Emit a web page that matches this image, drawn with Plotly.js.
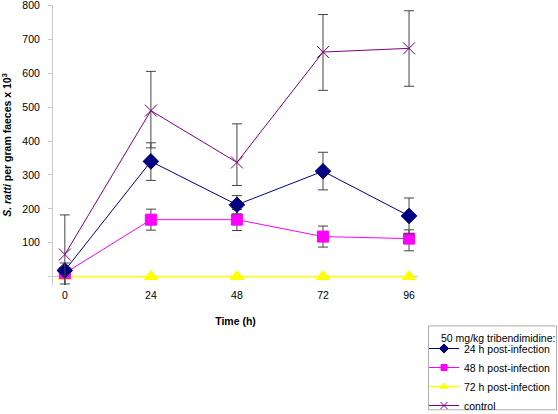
<!DOCTYPE html>
<html>
<head>
<meta charset="utf-8">
<script src="https://cdn.plot.ly/plotly-3.0.1.min.js"></script>
<style>html,body{margin:0;padding:0;background:#fff;}#chart{width:558px;height:414px;}</style>
</head>
<body>
<div id="chart"></div>
<script>
var timeH = [0, 24, 48, 72, 96];
var yTickVals = [0, 100, 200, 300, 400, 500, 600, 700, 800];
var yTickText = ['', '100', '200', '300', '400', '500', '600', '700', '800'];
var xTickVals = [0, 24, 48, 72, 96];

var h24Vals = [18, 340, 212, 311, 179];
var h24ErrPlus = [22, 55, 27, 56, 53];
var h24ErrMinus = [40, 56, 27, 55, 53];

var h48Vals = [10, 168, 168, 118, 112];
var h48ErrPlus = [8, 31, 30, 31, 26];
var h48ErrMinus = [8, 31, 32, 31, 36];

var h72Vals = [0, 0, 0, 0, 0];
var h72ErrPlus = [0, 0, 0, 0, 0];
var h72ErrMinus = [30, 0, 0, 0, 0];

var controlVals = [65, 490, 337, 663, 674];
var controlErrPlus = [117, 116, 114, 111, 111];
var controlErrMinus = [117, 110, 68, 113, 112];

var seriesNames = ['24 h post-infection', '48 h post-infection', '72 h post-infection', 'control'];
var legendHeader = '50 mg/kg tribendimidine:';

var styles = [
  {color: '#000080', symbol: 'diamond', size: 12, lsize: 7, lw: 1},
  {color: '#FF00FF', symbol: 'square', size: 11, lsize: 6, lw: 1},
  {color: '#FFFF00', symbol: 'triangle-up', size: 12, lsize: 7, lw: 1.5},
  {color: '#800080', symbol: 'x-thin-open', size: 12, lsize: 7, lw: 1}
];
var seriesVals = [h24Vals, h48Vals, h72Vals, controlVals];
var seriesPlus = [h24ErrPlus, h48ErrPlus, h72ErrPlus, controlErrPlus];
var seriesMinus = [h24ErrMinus, h48ErrMinus, h72ErrMinus, controlErrMinus];

function errBar(plus, minus) {
  return {type: 'data', symmetric: false, array: plus, arrayminus: minus,
          color: '#444444', thickness: 1, width: 5, visible: true};
}

var drawOrder = [2, 1, 0, 3];
var traces = [];
drawOrder.forEach(function (i) {
  var s = styles[i];
  traces.push({
    x: timeH, y: seriesVals[i], name: seriesNames[i], mode: 'lines+markers', showlegend: false,
    line: {color: s.color, width: s.lw},
    marker: {symbol: s.symbol, size: s.size, color: s.color, line: {color: s.color, width: 1}},
    error_y: errBar(seriesPlus[i], seriesMinus[i]), cliponaxis: false
  });
});
// legend-only entries (small symbols as in the reference legend)
[0, 1, 2, 3].forEach(function (i) {
  var s = styles[i];
  traces.push({
    x: [null], y: [null], name: seriesNames[i], mode: 'lines+markers', showlegend: true,
    line: {color: s.color, width: s.lw},
    marker: {symbol: s.symbol, size: s.lsize, color: s.color, line: {color: s.color, width: 1}},
    hoverinfo: 'skip'
  });
});

var plotL = 53, plotR = 418, plotT = 5, plotB = 285.5;
function px2paperX(px) { return (px - plotL) / (plotR - plotL); }
function px2paperY(py) { return (plotB - py) / (plotB - plotT); }

var layout = {
  width: 558, height: 414,
  margin: {l: plotL, r: 558 - plotR, t: plotT, b: 414 - plotB, pad: 0},
  paper_bgcolor: '#ffffff', plot_bgcolor: '#ffffff',
  font: {family: '"Liberation Sans", Arial, sans-serif', size: 10.5, color: '#000000'},
  showlegend: true,
  xaxis: {
    range: [-3.3, 98.5], tickvals: xTickVals, ticktext: xTickVals.map(String),
    showgrid: false, zeroline: false, showline: false, ticks: '',
    tickfont: {size: 10.5}, ticklabelstandoff: 2,
    title: {text: '<b>Time (h)</b>', font: {size: 10.5}, standoff: 18},
    fixedrange: true
  },
  yaxis: {
    range: [-25, 802], tickvals: yTickVals, ticktext: yTickText,
    showgrid: false, zeroline: false, showline: true, linecolor: '#c8c8c8', linewidth: 1,
    ticks: 'outside', ticklen: 4, tickcolor: '#c8c8c8',
    tickfont: {size: 10.5}, ticklabelstandoff: 6, ticklabeloverflow: 'allow',
    title: {text: '<b><i>S. ratti</i> per gram faeces x 10<sup>3</sup></b>', font: {size: 10.5}, standoff: 10},
    automargin: false, fixedrange: true
  },
  shapes: [
    {type: 'line', xref: 'paper', yref: 'y', x0: 0, x1: 1, y0: 0, y1: 0,
     line: {color: '#c8c8c8', width: 1}, layer: 'below'},
    {type: 'rect', xref: 'paper', yref: 'paper',
     x0: px2paperX(428.5), x1: px2paperX(556.5), y0: px2paperY(410.5), y1: px2paperY(326.5),
     line: {color: '#b0b0b0', width: 1}, fillcolor: 'rgba(0,0,0,0)', layer: 'above'}
  ],
  annotations: [
    {text: legendHeader, xref: 'paper', yref: 'paper', x: px2paperX(439), y: px2paperY(338.5),
     xanchor: 'left', yanchor: 'middle', showarrow: false, font: {size: 10.5}}
  ],
  legend: {
    xref: 'container', yref: 'container', x: 424/558, y: 1 - 334/414,
    xanchor: 'left', yanchor: 'top',
    borderwidth: 0, bgcolor: 'rgba(0,0,0,0)',
    font: {size: 10.5}, itemwidth: 30, tracegroupgap: 0,
    traceorder: 'normal'
  }
};

Plotly.newPlot('chart', traces, layout, {displayModeBar: false, staticPlot: true});
</script>
</body>
</html>
